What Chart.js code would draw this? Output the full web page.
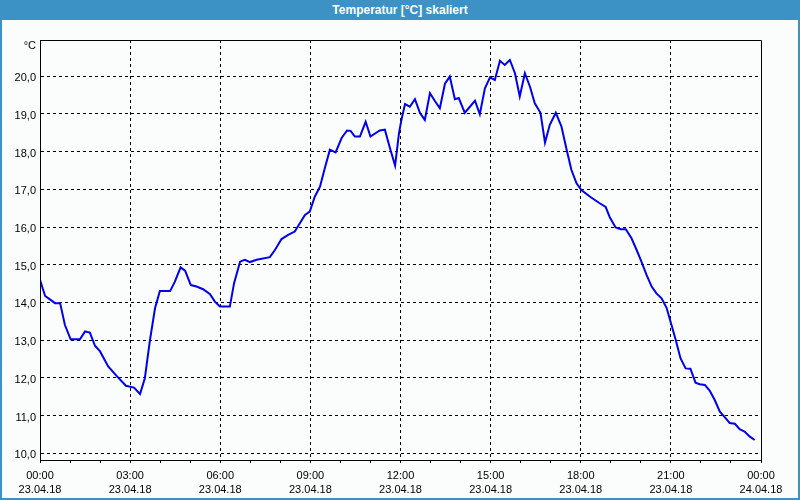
<!DOCTYPE html>
<html>
<head>
<meta charset="utf-8">
<script src="https://cdn.jsdelivr.net/npm/chart.js@4/dist/chart.umd.min.js"></script>
<style>
  html, body { margin: 0; padding: 0; background: #fbfdfc; }
  #wrap { position: relative; width: 800px; height: 500px; background: #fbfdfc; overflow: hidden; }
  #chart { position: absolute; left: 0; top: 0; }
  #frame { position: absolute; left: 0; top: 0; width: 800px; height: 500px; box-sizing: border-box;
           border: 2px solid #3c92c4; border-top: none; pointer-events: none; }
  #title { position: absolute; left: 0; top: 0; width: 800px; height: 20px; background: #3c92c4;
           color: #fff; font: bold 12px "Liberation Sans", Arial, sans-serif; text-align: center; line-height: 20px; }
</style>
</head>
<body>
<div id="wrap">
  <canvas id="chart" width="800" height="500"></canvas>
  <div id="frame"></div>
  <div id="title">Temperatur [°C] skaliert</div>
</div>
<script>
// Time of day in hours (23.04.18 00:00 = 0)
const hours = [
  0.00,0.17,0.33,0.50,0.67,0.83,1.02,1.33,1.50,1.66,1.83,2.00,2.27,2.55,2.86,3.13,3.33,3.49,3.66,3.83,
  3.99,4.33,4.49,4.68,4.83,5.02,5.21,5.43,5.66,5.82,5.99,6.32,6.46,6.66,6.82,6.99,7.21,7.65,7.82,8.04,
  8.26,8.48,8.82,8.98,9.15,9.32,9.48,9.65,9.84,10.04,10.22,10.34,10.48,10.65,10.84,11.00,11.31,11.48,11.65,11.82,
  11.95,12.03,12.15,12.31,12.48,12.65,12.81,12.98,13.14,13.31,13.48,13.64,13.81,13.94,14.14,14.31,14.48,14.64,14.81,14.98,
  15.14,15.31,15.47,15.64,15.81,15.97,16.14,16.31,16.47,16.66,16.81,16.97,17.17,17.36,17.53,17.69,17.86,18.02,18.30,18.63,
  18.83,18.97,19.16,19.33,19.50,19.69,19.86,20.02,20.19,20.36,20.52,20.69,20.86,21.02,21.16,21.32,21.49,21.65,21.82,21.96,
  22.13,22.29,22.46,22.63,22.80,22.96,23.13,23.29,23.46,23.63,23.79
];
// Temperature in °C
const temps = [
  14.60,14.17,14.08,13.98,13.98,13.40,13.02,13.02,13.23,13.20,12.85,12.70,12.30,12.05,11.79,11.74,11.57,11.99,13.00,13.85,
  14.30,14.30,14.55,14.93,14.84,14.46,14.42,14.35,14.22,14.02,13.89,13.89,14.51,15.08,15.13,15.07,15.13,15.20,15.39,15.68,
  15.79,15.88,16.32,16.41,16.81,17.07,17.56,18.05,17.98,18.36,18.56,18.55,18.40,18.40,18.79,18.40,18.56,18.58,18.09,17.63,
  18.49,18.84,19.26,19.19,19.39,19.02,18.84,19.55,19.35,19.15,19.80,19.99,19.39,19.42,19.03,19.19,19.35,18.99,19.68,19.97,
  19.90,20.41,20.30,20.43,20.08,19.46,20.08,19.72,19.28,19.03,18.24,18.71,19.03,18.66,18.05,17.51,17.16,16.98,16.81,16.63,
  16.53,16.25,15.99,15.94,15.94,15.70,15.39,15.08,14.73,14.42,14.24,14.11,13.85,13.40,13.01,12.52,12.25,12.24,11.87,11.83,
  11.81,11.66,11.41,11.10,10.95,10.80,10.78,10.64,10.57,10.44,10.35
];
const timeLabels = ['00:00','03:00','06:00','09:00','12:00','15:00','18:00','21:00','00:00'];
const dateLabels = ['23.04.18','23.04.18','23.04.18','23.04.18','23.04.18','23.04.18','23.04.18','23.04.18','24.04.18'];
const yMin = 9.82, yMax = 20.96;
const unitLabel = '°C';

const FONT = { family: '"Liberation Sans", Arial, sans-serif', size: 11, lineHeight: 1.36 };

const framePlugin = {
  id: 'framePlugin',
  afterDraw(chart) {
    const { ctx, chartArea: a } = chart;
    ctx.save();
    ctx.strokeStyle = '#000';
    ctx.lineWidth = 1;
    ctx.setLineDash([]);
    ctx.beginPath();
    ctx.moveTo(a.left + 0.5, a.bottom);
    ctx.lineTo(a.left + 0.5, a.top + 0.5);
    ctx.lineTo(a.right + 0.5, a.top + 0.5);
    ctx.lineTo(a.right + 0.5, a.bottom + 2);
    ctx.stroke();
    ctx.fillStyle = '#000';
    ctx.font = '11px "Liberation Sans", Arial, sans-serif';
    ctx.textAlign = 'right';
    ctx.textBaseline = 'middle';
    ctx.fillText(unitLabel, a.left - 4, a.top + 6);
    ctx.restore();
  }
};

new Chart(document.getElementById('chart'), {
  type: 'line',
  data: {
    datasets: [{
      data: hours.map((h, i) => ({ x: h, y: temps[i] })),
      borderColor: '#0000ee',
      borderWidth: 2,
      pointRadius: 0,
      tension: 0,
      fill: false
    }]
  },
  options: {
    responsive: false,
    animation: false,
    devicePixelRatio: 1,
    layout: { padding: { left: 0, top: 40, right: 39, bottom: 0 } },
    plugins: { legend: { display: false }, tooltip: { enabled: false }, title: { display: false } },
    scales: {
      x: {
        type: 'linear',
        min: 0, max: 24,
        afterFit(s) { s.height = 40; },
        ticks: {
          stepSize: 1, autoSkip: false, maxRotation: 0, padding: 5,
          color: '#000', font: FONT,
          callback(v) {
            if (v % 3 !== 0) return '';
            const i = v / 3;
            return [timeLabels[i], dateLabels[i]];
          }
        },
        grid: {
          color: (c) => (c.tick && c.tick.value % 3 === 0 && c.tick.value > 0 && c.tick.value < 24) ? '#000' : 'rgba(0,0,0,0)',
          tickColor: '#000',
          tickLength: 3,
          lineWidth: 1,
          tickBorderDash: [],
          drawTicks: true
        },
        border: { display: true, color: '#000', dash: [3, 3] }
      },
      y: {
        min: yMin, max: yMax,
        afterFit(s) { s.width = 40; },
        ticks: {
          stepSize: 1, includeBounds: false, padding: 4, labelOffset: 2,
          color: '#000', font: FONT,
          callback: (v) => Number.isInteger(Math.round(v * 1000) / 1000) ? v.toFixed(1).replace('.', ',') : ''
        },
        grid: { color: '#000', lineWidth: 1, drawTicks: false },
        border: { display: true, color: '#000', dash: [3, 3] }
      }
    }
  },
  plugins: [framePlugin]
});
</script>
</body>
</html>
